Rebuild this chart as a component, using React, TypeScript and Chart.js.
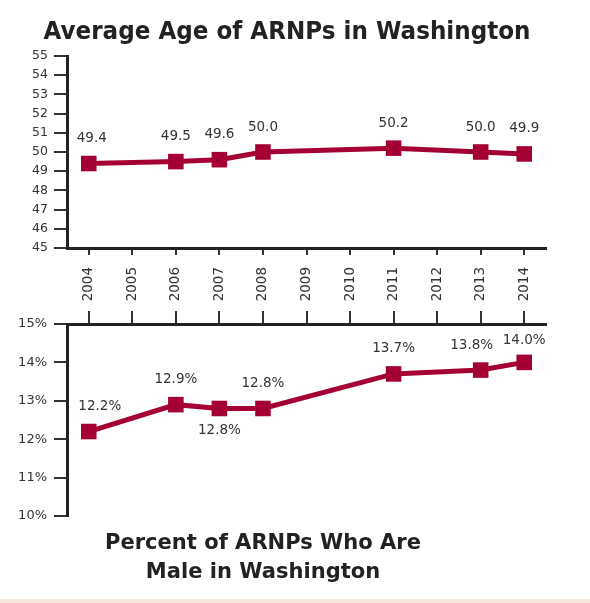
import React, { useEffect, useRef } from "react";
import { Chart, registerables } from "chart.js";

Chart.register(...registerables);

const years = ["2004", "2005", "2006", "2007", "2008", "2009", "2010", "2011", "2012", "2013", "2014"];
const avgAge: (number | null)[] = [49.4, null, 49.5, 49.6, 50.0, null, null, 50.2, null, 50.0, 49.9];
const pctMale: (number | null)[] = [12.2, null, 12.9, 12.8, 12.8, null, null, 13.7, null, 13.8, 14.0];
const ageTicks = [45, 46, 47, 48, 49, 50, 51, 52, 53, 54, 55];
const pctTicks = [10, 11, 12, 13, 14, 15];
const topTitle = "Average Age of ARNPs in Washington";
const bottomTitle = ["Percent of ARNPs Who Are", "Male in Washington"];

// label placement styles (index -> offset), kept apart from the data
const ageLabelNudge: Record<number, { dx?: number; dy?: number }> = {
  0: { dx: 3 },
};
const pctLabelNudge: Record<number, { dx?: number; dy?: number }> = {
  0: { dx: 11 },
  3: { dy: 47 },
  9: { dx: -9 },
  10: { dy: 3 },
};

const RED = "#A50034";
const AXIS = "#222222";
const TEXT = "#333333";
const FONT = "'DejaVu Sans', Verdana, sans-serif";

function labelPlugin(id: string, fmt: (v: number) => string, nudge: Record<number, { dx?: number; dy?: number }>) {
  return {
    id,
    afterDatasetsDraw(chart: any) {
      const ctx = chart.ctx;
      const meta = chart.getDatasetMeta(0);
      const data = chart.data.datasets[0].data as (number | null)[];
      ctx.save();
      ctx.font = `13.5px ${FONT}`;
      ctx.fillStyle = TEXT;
      ctx.textAlign = "center";
      ctx.textBaseline = "middle";
      meta.data.forEach((pt: any, i: number) => {
        const v = data[i];
        if (v == null) return;
        const n = nudge[i] || {};
        ctx.fillText(fmt(v), pt.x + (n.dx || 0), pt.y - 25 + (n.dy || 0));
      });
      ctx.restore();
    },
  };
}

function titlePlugin(id: string, lines: string[], size: number, cx: number, baselines: number[], targetWidth: number) {
  return {
    id,
    afterDraw(chart: any) {
      const ctx = chart.ctx;
      ctx.save();
      ctx.font = `bold ${size}px ${FONT}`;
      ctx.fillStyle = AXIS;
      ctx.textAlign = "center";
      ctx.textBaseline = "alphabetic";
      const w = ctx.measureText(lines[0]).width;
      const sx = Math.min(1, targetWidth / w);
      lines.forEach((line, i) => {
        ctx.save();
        ctx.translate(cx, baselines[i]);
        ctx.scale(sx, 1);
        ctx.fillText(line, 0, 0);
        ctx.restore();
      });
      ctx.restore();
    },
  };
}

function AgeChart() {
  const ref = useRef<HTMLCanvasElement>(null);
  useEffect(() => {
    const chart = new Chart(ref.current!, {
      type: "line",
      data: {
        labels: years,
        datasets: [
          {
            data: avgAge,
            borderColor: RED,
            backgroundColor: RED,
            borderWidth: 5,
            pointStyle: "rect",
            pointRadius: 11,
            pointBorderWidth: 0,
            spanGaps: true,
            tension: 0,
          },
        ],
      },
      options: {
        animation: false,
        responsive: false,
        layout: { padding: { left: 0, right: 44, top: 56, bottom: 0 } },
        plugins: {
          legend: { display: false },
          tooltip: { enabled: false },
          title: { display: false },
        },
        scales: {
          x: {
            type: "category",
            offset: true,
            border: { display: true, color: AXIS, width: 3 },
            grid: { display: true, drawOnChartArea: false, drawTicks: true, tickLength: 7, color: TEXT, lineWidth: 2, offset: false },
            ticks: {
              color: TEXT,
              font: { family: FONT, size: 13.5 },
              minRotation: 90,
              maxRotation: 90,
              padding: 12,
              autoSkip: false,
            },
            afterFit: (s: any) => {
              s.height = 62;
            },
          },
          y: {
            min: 45,
            max: 55,
            afterBuildTicks: (s: any) => {
              s.ticks = ageTicks.map((v) => ({ value: v }));
            },
            border: { display: true, color: AXIS, width: 3 },
            grid: { display: true, drawOnChartArea: false, drawTicks: true, tickLength: 13, color: TEXT, lineWidth: 2 },
            ticks: { color: TEXT, font: { family: FONT, size: 12.5 }, padding: 6 },
            afterFit: (s: any) => {
              s.width = 67;
            },
          },
        },
      },
      plugins: [
        labelPlugin("ageLabels", (v) => v.toFixed(1), ageLabelNudge),
        titlePlugin("ageTitle", [topTitle], 25, 287, [39], 487),
      ],
    } as any);
    return () => chart.destroy();
  }, []);
  return <canvas ref={ref} width={590} height={310} style={{ position: "absolute", left: 0, top: 0 }} />;
}

function PctChart() {
  const ref = useRef<HTMLCanvasElement>(null);
  useEffect(() => {
    const chart = new Chart(ref.current!, {
      type: "line",
      data: {
        labels: years,
        datasets: [
          {
            data: pctMale,
            borderColor: RED,
            backgroundColor: RED,
            borderWidth: 5,
            pointStyle: "rect",
            pointRadius: 11,
            pointBorderWidth: 0,
            spanGaps: true,
            tension: 0,
          },
        ],
      },
      options: {
        animation: false,
        responsive: false,
        layout: { padding: { left: 0, right: 44, top: 0, bottom: 82 } },
        plugins: {
          legend: { display: false },
          tooltip: { enabled: false },
          title: { display: false },
        },
        scales: {
          x: {
            type: "category",
            position: "top",
            offset: true,
            border: { display: true, color: AXIS, width: 3 },
            grid: { display: true, drawOnChartArea: false, drawTicks: true, tickLength: 13, color: TEXT, lineWidth: 2, offset: false },
            ticks: { display: false, autoSkip: false },
            afterFit: (s: any) => {
              s.height = 24;
            },
          },
          y: {
            min: 10,
            max: 15,
            afterBuildTicks: (s: any) => {
              s.ticks = pctTicks.map((v) => ({ value: v }));
            },
            border: { display: true, color: AXIS, width: 3 },
            grid: { display: true, drawOnChartArea: false, drawTicks: true, tickLength: 13, color: TEXT, lineWidth: 2 },
            ticks: {
              color: TEXT,
              font: { family: FONT, size: 13 },
              padding: 7,
              callback: (v: any) => `${v}%`,
            },
            afterFit: (s: any) => {
              s.width = 67;
            },
          },
        },
      },
      plugins: [
        labelPlugin("pctLabels", (v) => `${v.toFixed(1)}%`, pctLabelNudge),
        titlePlugin("pctTitle", bottomTitle, 22, 263, [249, 278], 316),
      ],
    } as any);
    return () => chart.destroy();
  }, []);
  return <canvas ref={ref} width={590} height={298} style={{ position: "absolute", left: 0, top: 300 }} />;
}

export default function App() {
  return (
    <div style={{ position: "fixed", left: 0, top: 0, width: 590, height: 603, background: "#ffffff", overflow: "hidden" }}>
      <PctChart />
      <AgeChart />
      <div style={{ position: "absolute", left: 0, top: 599, width: 590, height: 4, background: "#F5E7DA" }} />
    </div>
  );
}
